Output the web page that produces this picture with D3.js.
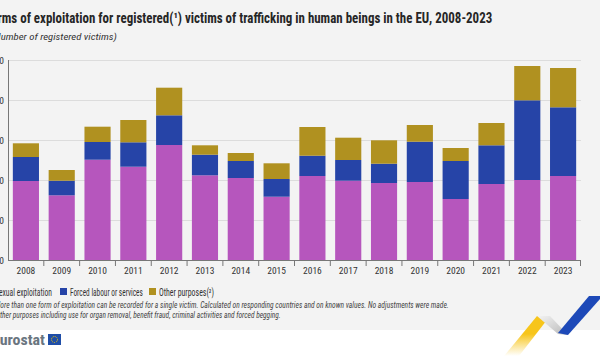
<!DOCTYPE html>
<html><head><meta charset="utf-8">
<script src="https://cdn.jsdelivr.net/npm/d3@7"></script>
<style>
html,body{margin:0;padding:0;background:#fff;}
svg{display:block;}
text{font-family:"Liberation Sans Narrow","Roboto Condensed","Roboto",sans-serif;}
</style></head><body>
<svg id="c" width="600" height="356"></svg>
<script>
const years = ["2008","2009","2010","2011","2012","2013","2014","2015","2016","2017","2018","2019","2020","2021","2022","2023"];
const sexual = [3975,3260,5040,4690,5775,4260,4125,3190,4225,3990,3875,3925,3075,3825,4025,4225];
const forced = [1200,730,885,1220,1485,1030,850,885,1015,1035,965,2015,1900,1935,3985,3435];
const other  = [685,535,765,1115,1380,470,400,785,1435,1115,1170,835,650,1115,1715,1965];
const yTicks = [0,2000,4000,6000,8000,10000];
const seriesNames = ["Sexual exploitation","Forced labour or services","Other purposes(²)"];
const colors = ["#b656bd","#2644a7","#b09120"];

const svg = d3.select("#c");
svg.append("rect").attr("x",0).attr("y",0).attr("width",600).attr("height",330).attr("fill","#f3f3f3");

// helper: horizontally squeeze text to a target width (condensed look)
function squeeze(sel, x0, y0, w){
  const L = sel.node().getComputedTextLength();
  sel.attr("x",0).attr("y",0).attr("transform",`translate(${x0},${y0}) scale(${w/L},1)`);
  return sel;
}

// title
squeeze(svg.append("text").attr("font-size",14).attr("font-weight","bold").attr("fill","#262626")
  .text("Forms of exploitation for registered(¹) victims of trafficking in human beings in the EU, 2008-2023"), -15, 23, 508);
squeeze(svg.append("text").attr("font-size",9.5).attr("font-style","italic").attr("fill","#333")
  .text("(Number of registered victims)"), -9, 40, 126);

const x = d3.scaleBand().domain(years).range([8,581]).paddingInner(0.27).paddingOuter(0.135);
const y = d3.scaleLinear().domain([0,10000]).range([260.5,60.5]);

// grid
svg.append("g").selectAll("line").data(yTicks.slice(1)).join("line")
  .attr("x1",8).attr("x2",581).attr("y1",d=>y(d)).attr("y2",d=>y(d))
  .attr("stroke","#dcdcdc").attr("stroke-width",1);

// y labels
svg.append("g").selectAll("text").data(yTicks).join("text")
  .attr("x",4).attr("y",d=>y(d)+3).attr("text-anchor","end").attr("font-size",9.5).attr("fill","#333")
  .text(d=>d3.format(",")(d).replace(/,/g," "));

const data = years.map((yr,i)=>({year:yr,s:sexual[i],f:forced[i],o:other[i]}));
const stack = d3.stack().keys(["s","f","o"])(data);
svg.append("g").selectAll("g").data(stack).join("g").attr("fill",(d,i)=>colors[i])
  .selectAll("rect").data(d=>d).join("rect")
  .attr("x",d=>x(d.data.year)).attr("width",x.bandwidth())
  .attr("y",d=>y(d[1])).attr("height",d=>y(d[0])-y(d[1]));

// axes lines
svg.append("line").attr("x1",8.5).attr("x2",8.5).attr("y1",60).attr("y2",261).attr("stroke","#777");
const xAxis = d3.axisBottom(x).tickSize(0).tickPadding(7);
const gx = svg.append("g").attr("transform","translate(0,260.5)").call(xAxis);
gx.select(".domain").attr("stroke","#777").attr("d","M8,0H581");
gx.selectAll("text").attr("font-size",9.5).attr("fill","#333").attr("font-family","Liberation Sans Narrow, Roboto, sans-serif");
// separators
const step = x.step();
svg.append("g").selectAll("line").data(years.slice(1).concat(["end"])).join("line")
  .attr("x1",(d,i)=> d==="end"?580.5: x(d)-(step-x.bandwidth())/2)
  .attr("x2",(d,i)=> d==="end"?580.5: x(d)-(step-x.bandwidth())/2)
  .attr("y1",260.5).attr("y2",266).attr("stroke","#777");

// legend
const legX = [-15,60,149];
const legW = [57,73,55];
seriesNames.forEach((n,i)=>{
  svg.append("rect").attr("x",legX[i]).attr("y",288).attr("width",7).attr("height",7).attr("fill",colors[i]);
  squeeze(svg.append("text").attr("font-size",10).attr("fill","#333").text(n), legX[i]+10, 295.5, legW[i]);
});

// footnotes
squeeze(svg.append("text").attr("font-size",8.8).attr("font-style","italic").attr("fill","#444")
  .text("(¹) More than one form of exploitation can be recorded for a single victim. Calculated on responding countries and on known values. No adjustments were made."), -14, 307.5, 463);
squeeze(svg.append("text").attr("font-size",8.8).attr("font-style","italic").attr("fill","#444")
  .text("(²) Other purposes including use for organ removal, benefit fraud, criminal activities and forced begging."), -13, 317.5, 294);

// eurostat logo
squeeze(svg.append("text").attr("font-size",15).attr("font-weight","bold").attr("fill","#6a7580")
  .attr("font-family","Roboto, sans-serif").text("eurostat"), -8, 345, 53);
svg.append("rect").attr("x",48).attr("y",334).attr("width",13).attr("height",11).attr("fill","#1f4ea8");
svg.append("circle").attr("cx",54.5).attr("cy",339.5).attr("r",3).attr("fill","none").attr("stroke","#ffd200").attr("stroke-width",1).attr("stroke-dasharray","1 1");

// ribbons
const defs = svg.append("defs");
const g1 = defs.append("linearGradient").attr("id","yg").attr("x1","0").attr("y1","0").attr("x2","0").attr("y2","1");
g1.append("stop").attr("offset","0").attr("stop-color","#f7c51b");
g1.append("stop").attr("offset","0.45").attr("stop-color","#f7c51b");
g1.append("stop").attr("offset","1").attr("stop-color","#fff").attr("stop-opacity","0.9");
const g2 = defs.append("linearGradient").attr("id","gg").attr("x1","0").attr("y1","0").attr("x2","1").attr("y2","1");
g2.append("stop").attr("offset","0").attr("stop-color","#f3f3f3");
g2.append("stop").attr("offset","1").attr("stop-color","#b8b8b8");
svg.append("polygon").attr("points","537,316 550,316 519,356 504,356").attr("fill","url(#yg)");
svg.append("polygon").attr("points","537,316 550,316 568,335 558,334").attr("fill","url(#gg)");
svg.append("polygon").attr("points","589,296 600,296 600,299 568,335 558,333").attr("fill","#1d49b8");
</script>
</body></html>
